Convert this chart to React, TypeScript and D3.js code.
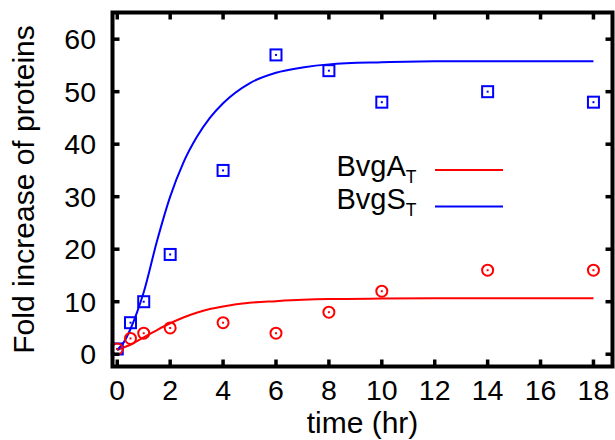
import React from "react";
import * as d3 from "d3";

const timePoints = [0, 0.5, 1, 2, 4, 6, 8, 10, 14, 18];
const bvgSData = [1, 6, 10, 19, 35, 57, 54, 48, 50, 48];
const bvgAData = [1, 3, 4, 5, 6, 4, 8, 12, 16, 16];

const curveTime = [0, 0.25, 0.5, 0.75, 1, 1.5, 2, 2.5, 3, 3.5, 4, 5, 6, 7, 8, 10, 12, 14, 16, 18];
const bvgSCurve = [0.8, 2.3, 4.8, 8, 11.8, 21.5, 30, 36.5, 41.3, 45, 47.8, 51.6, 53.6, 54.6, 55.2, 55.6, 55.8, 55.8, 55.8, 55.8];
const bvgACurve = [0.8, 1.3, 1.8, 2.5, 3.2, 4.6, 5.9, 7, 7.9, 8.6, 9.1, 9.8, 10.1, 10.35, 10.5, 10.6, 10.65, 10.65, 10.65, 10.65];

const xTicks = [0, 2, 4, 6, 8, 10, 12, 14, 16, 18];
const yTicks = [0, 10, 20, 30, 40, 50, 60];

const W = 615;
const H = 440;
const L = 112.5, R = 612.5, T = 12.5, B = 366.5;
const FONT = "'Liberation Sans', Arial, Helvetica, sans-serif";

export default function App() {
  const x = d3.scaleLinear().domain([-0.18, 18.72]).range([L, R]);
  const y = d3.scaleLinear().domain([-2.34, 65.08]).range([B, T]);

  const line = d3
    .line<[number, number]>()
    .x((d) => x(d[0]))
    .y((d) => y(d[1]))
    .curve(d3.curveMonotoneX);

  const sPath = line(curveTime.map((t, i) => [t, bvgSCurve[i]]) as [number, number][]) || "";
  const aPath = line(curveTime.map((t, i) => [t, bvgACurve[i]]) as [number, number][]) || "";

  const red = "#ff0000";
  const blue = "#0000ff";
  const tickLen = 7;

  return (
    <svg
      width={W}
      height={H}
      style={{ position: "absolute", left: 0, top: 0, background: "#fff" }}
      fontFamily={FONT}
    >
      <rect x={0} y={0} width={W} height={H} fill="#fff" />
      <defs>
        <clipPath id="plotclip">
          <rect x={L} y={T} width={R - L} height={B - T} />
        </clipPath>
      </defs>

      {/* curves */}
      <g clipPath="url(#plotclip)">
        <path d={aPath} fill="none" stroke={red} strokeWidth={2} />
        <path d={sPath} fill="none" stroke={blue} strokeWidth={2} />
      </g>

      {/* markers */}
      {timePoints.map((t, i) => (
        <g key={"s" + i}>
          <rect
            x={x(t) - 5.5}
            y={y(bvgSData[i]) - 5.5}
            width={11}
            height={11}
            fill="none"
            stroke={blue}
            strokeWidth={2}
          />
          <rect x={x(t) - 1} y={y(bvgSData[i]) - 1} width={2} height={2} fill={blue} />
        </g>
      ))}
      {timePoints.map((t, i) => (
        <g key={"a" + i}>
          <circle cx={x(t)} cy={y(bvgAData[i])} r={5.5} fill="none" stroke={red} strokeWidth={2} />
          <rect x={x(t) - 1} y={y(bvgAData[i]) - 1} width={2} height={2} fill={red} />
        </g>
      ))}

      {/* ticks */}
      {xTicks.map((t) => (
        <g key={"xt" + t}>
          <line x1={x(t)} x2={x(t)} y1={B} y2={B - tickLen} stroke="#000" strokeWidth={3.5} />
          <line x1={x(t)} x2={x(t)} y1={T} y2={T + tickLen} stroke="#000" strokeWidth={3.5} />
          <text x={x(t)} y={400} fontSize={28.5} textAnchor="middle" fill="#000">
            {t}
          </text>
        </g>
      ))}
      {yTicks.map((v) => (
        <g key={"yt" + v}>
          <line x1={L} x2={L + tickLen} y1={y(v)} y2={y(v)} stroke="#000" strokeWidth={3.5} />
          <line x1={R} x2={R - tickLen} y1={y(v)} y2={y(v)} stroke="#000" strokeWidth={3.5} />
          <text x={96} y={y(v) + 10} fontSize={28.5} textAnchor="end" fill="#000">
            {v}
          </text>
        </g>
      ))}

      {/* frame */}
      <rect x={L} y={T} width={R - L} height={B - T} fill="none" stroke="#000" strokeWidth={4} />

      {/* axis labels */}
      <text x={(L + R) / 2} y={433} fontSize={30} textAnchor="middle" fill="#000">
        time (hr)
      </text>
      <text
        transform={`translate(34, ${(T + B) / 2}) rotate(-90)`}
        fontSize={30}
        textAnchor="middle"
        fill="#000"
      >
        Fold increase of proteins
      </text>

      {/* legend */}
      <text x={336.5} y={175.5} fontSize={29} fill="#000">
        BvgA
        <tspan fontSize={17.5} dy={7}>T</tspan>
      </text>
      <line x1={435} x2={503} y1={170} y2={170} stroke={red} strokeWidth={2} />
      <text x={336.5} y={209} fontSize={29} fill="#000">
        BvgS
        <tspan fontSize={17.5} dy={7}>T</tspan>
      </text>
      <line x1={435} x2={503} y1={206.5} y2={206.5} stroke={blue} strokeWidth={2} />
    </svg>
  );
}
